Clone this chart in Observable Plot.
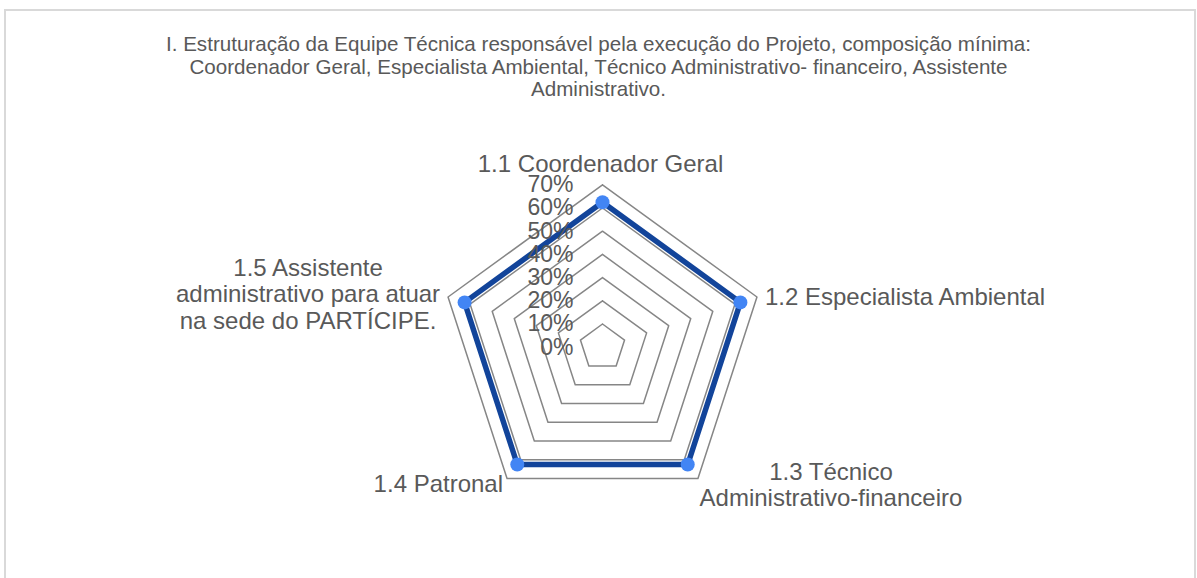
<!DOCTYPE html>
<html><head><meta charset="utf-8">
<script src="https://cdn.jsdelivr.net/npm/d3@7"></script>
<script src="https://cdn.jsdelivr.net/npm/@observablehq/plot@0.6"></script>
<style>
body{margin:0;background:#fff;font-family:"Liberation Sans",Arial,sans-serif;}
#wrap{position:relative;width:1197px;height:578px;overflow:hidden;background:#fff}
#frame{position:absolute;left:4px;top:9px;width:1192px;height:620px;border:2px solid #d9d9d9;box-sizing:border-box}
#title{position:relative;height:110px;box-sizing:border-box;padding-top:33px;text-align:center;color:#595959;font-size:20.6px;line-height:22.5px;white-space:pre-line}
#chart{position:relative}
</style></head>
<body><div id="wrap"><div id="frame"></div><div id="title"></div><div id="chart"></div></div>
<script>
const titleLines = [
  "I. Estruturação da Equipe Técnica responsável pela execução do Projeto, composição mínima:",
  "Coordenador Geral, Especialista Ambiental, Técnico Administrativo- financeiro, Assistente",
  "Administrativo."
];
const categories = [
  "1.1 Coordenador Geral",
  "1.2 Especialista Ambiental",
  "1.3 Técnico\nAdministrativo-financeiro",
  "1.4 Patronal",
  "1.5 Assistente\nadministrativo para atuar\nna sede do PARTÍCIPE."
];
const values = [0.625, 0.625, 0.625, 0.625, 0.625];
const tickValues = [0, 0.1, 0.2, 0.3, 0.4, 0.5, 0.6, 0.7];
const tickLabels = ["0%", "10%", "20%", "30%", "40%", "50%", "60%", "70%"];

document.getElementById("title").textContent = titleLines.join("\n");

// layout / style (not data)
const W = 1197, H = 468;
const cx = 602, cy = 236.7, k = 232; // px per unit
const rMax = 0.7;
const labelStyle = [
  {anchor: "middle", dx: -2, dy: -21},
  {anchor: "start", dx: 8, dy: 0},
  {anchor: "middle", dx: 133, dy: 6},
  {anchor: "end", dx: -4, dy: 5},
  {anchor: "middle", dx: -140, dy: -3}
];

const n = categories.length;
const ang = i => Math.PI / 2 - i * 2 * Math.PI / n;
const pt = (i, r) => ({x: r * Math.cos(ang(i)), y: r * Math.sin(ang(i))});

const gridData = tickValues.filter(t => t > 0).flatMap(t =>
  d3.range(n + 1).map(i => ({level: t, ...pt(i % n, t)})));
const seriesData = d3.range(n + 1).map(i => pt(i % n, values[i % n]));
const dotData = values.map((v, i) => pt(i, v));
const tickData = tickValues.map((t, i) => ({x: 0, y: t, label: tickLabels[i]}));
const catData = categories.map((c, i) => ({...pt(i, rMax), label: c, ...labelStyle[i]}));

const font = '"Liberation Sans", Arial, sans-serif';
const chart = Plot.plot({
  width: W, height: H,
  margin: 0,
  x: {domain: [-cx / k, (W - cx) / k], axis: null},
  y: {domain: [-(H - cy) / k, cy / k], axis: null},
  style: {fontFamily: font, background: "transparent"},
  marks: [
    Plot.line(gridData, {x: "x", y: "y", z: "level", stroke: "#868686", strokeWidth: 1.5}),
    Plot.line(seriesData, {x: "x", y: "y", stroke: "#12449a", strokeWidth: 5.5, strokeLinejoin: "round"}),
    Plot.dot(dotData, {x: "x", y: "y", r: 7, fill: "#4285f4", stroke: "none"}),
    Plot.text(tickData, {x: "x", y: "y", text: "label", textAnchor: "end", dx: -29, fontSize: 23, fill: "#595959", lineAnchor: "middle"}),
    ...catData.map(d => Plot.text([d], {x: "x", y: "y", text: "label", textAnchor: d.anchor, dx: d.dx, dy: d.dy, fontSize: 24, lineHeight: 1.1, fill: "#595959", lineAnchor: "middle"}))
  ]
});
document.getElementById("chart").appendChild(chart);
</script>
</body></html>
